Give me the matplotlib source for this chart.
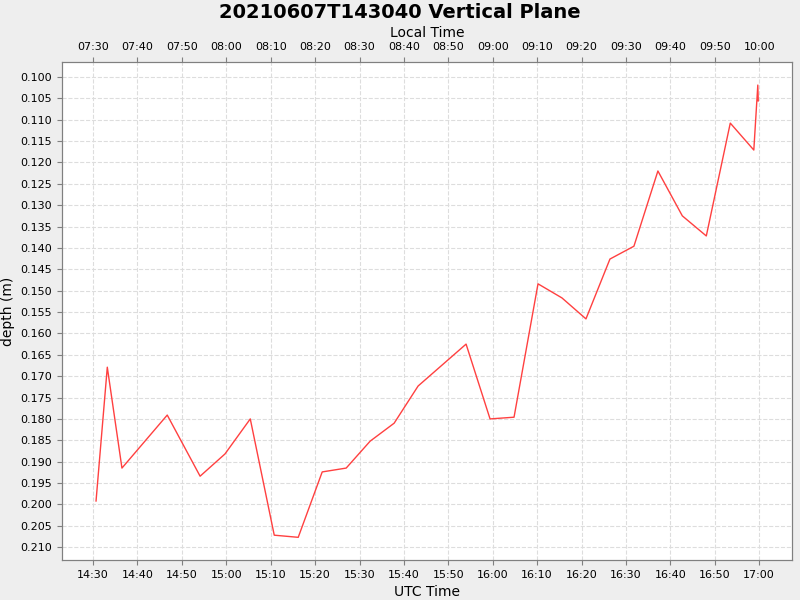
import matplotlib
matplotlib.use("Agg")
import matplotlib.pyplot as plt
import matplotlib.dates as mdates
import pandas as pd

utc_times = ["14:30:40","14:33:12","14:36:30","14:46:42","14:54:06","14:59:42","15:05:24",
             "15:10:48","15:16:12","15:21:36","15:27:00","15:32:24","15:37:48","15:43:12",
             "15:54:00","15:59:24","16:04:48","16:10:12","16:15:36","16:21:00","16:26:24",
             "16:31:48","16:37:12","16:42:42","16:48:06","16:53:30","16:58:48","16:59:42","16:59:48"]
depth = [0.1992,0.1679,0.1915,0.1791,0.1934,0.1882,0.1800,0.2072,0.2077,0.1924,0.1915,
         0.1852,0.1810,0.1723,0.1625,0.1800,0.1796,0.1484,0.1517,0.1566,0.1426,0.1396,
         0.1220,0.1325,0.1372,0.1108,0.1171,0.1019,0.1056]

t = pd.to_datetime(["2021-06-07 " + s for s in utc_times])

fig = plt.figure(figsize=(8, 6), dpi=100, facecolor="#eeeeee")
ax = fig.add_axes([0.0775, 0.0667, 0.9125, 0.83])
ax.set_facecolor("white")
ax.plot(t, depth, color="#ff4040", lw=1)
ax.set_xlim(pd.Timestamp("2021-06-07 14:23:00"), pd.Timestamp("2021-06-07 17:07:24"))
ax.set_ylim(0.2130, 0.0965)
ax.set_yticks([0.100 + 0.005 * i for i in range(23)])
ax.yaxis.set_major_formatter(matplotlib.ticker.FormatStrFormatter("%.3f"))
ax.xaxis.set_major_locator(mdates.MinuteLocator(byminute=range(0, 60, 10)))
ax.xaxis.set_major_formatter(mdates.DateFormatter("%H:%M"))
ax.tick_params(labelsize=8, color="gray")
ax.grid(True, color="#dddddd", ls="--", lw=0.8)
for s in ax.spines.values():
    s.set_color("gray")
ax.set_xlabel("UTC Time", fontsize=10)
ax.set_ylabel("depth (m)", fontsize=10)

ax2 = ax.twiny()
ax2.set_xlim(pd.Timestamp("2021-06-07 07:23:00"), pd.Timestamp("2021-06-07 10:07:24"))
ax2.xaxis.set_major_locator(mdates.MinuteLocator(byminute=range(0, 60, 10)))
ax2.xaxis.set_major_formatter(mdates.DateFormatter("%H:%M"))
ax2.tick_params(labelsize=8, color="gray")
ax2.set_xlabel("Local Time", fontsize=10)
for s in ax2.spines.values():
    s.set_color("gray")

fig.suptitle("20210607T143040 Vertical Plane", fontsize=14, fontweight="bold", y=0.995)
fig.savefig("out.png", facecolor=fig.get_facecolor())
